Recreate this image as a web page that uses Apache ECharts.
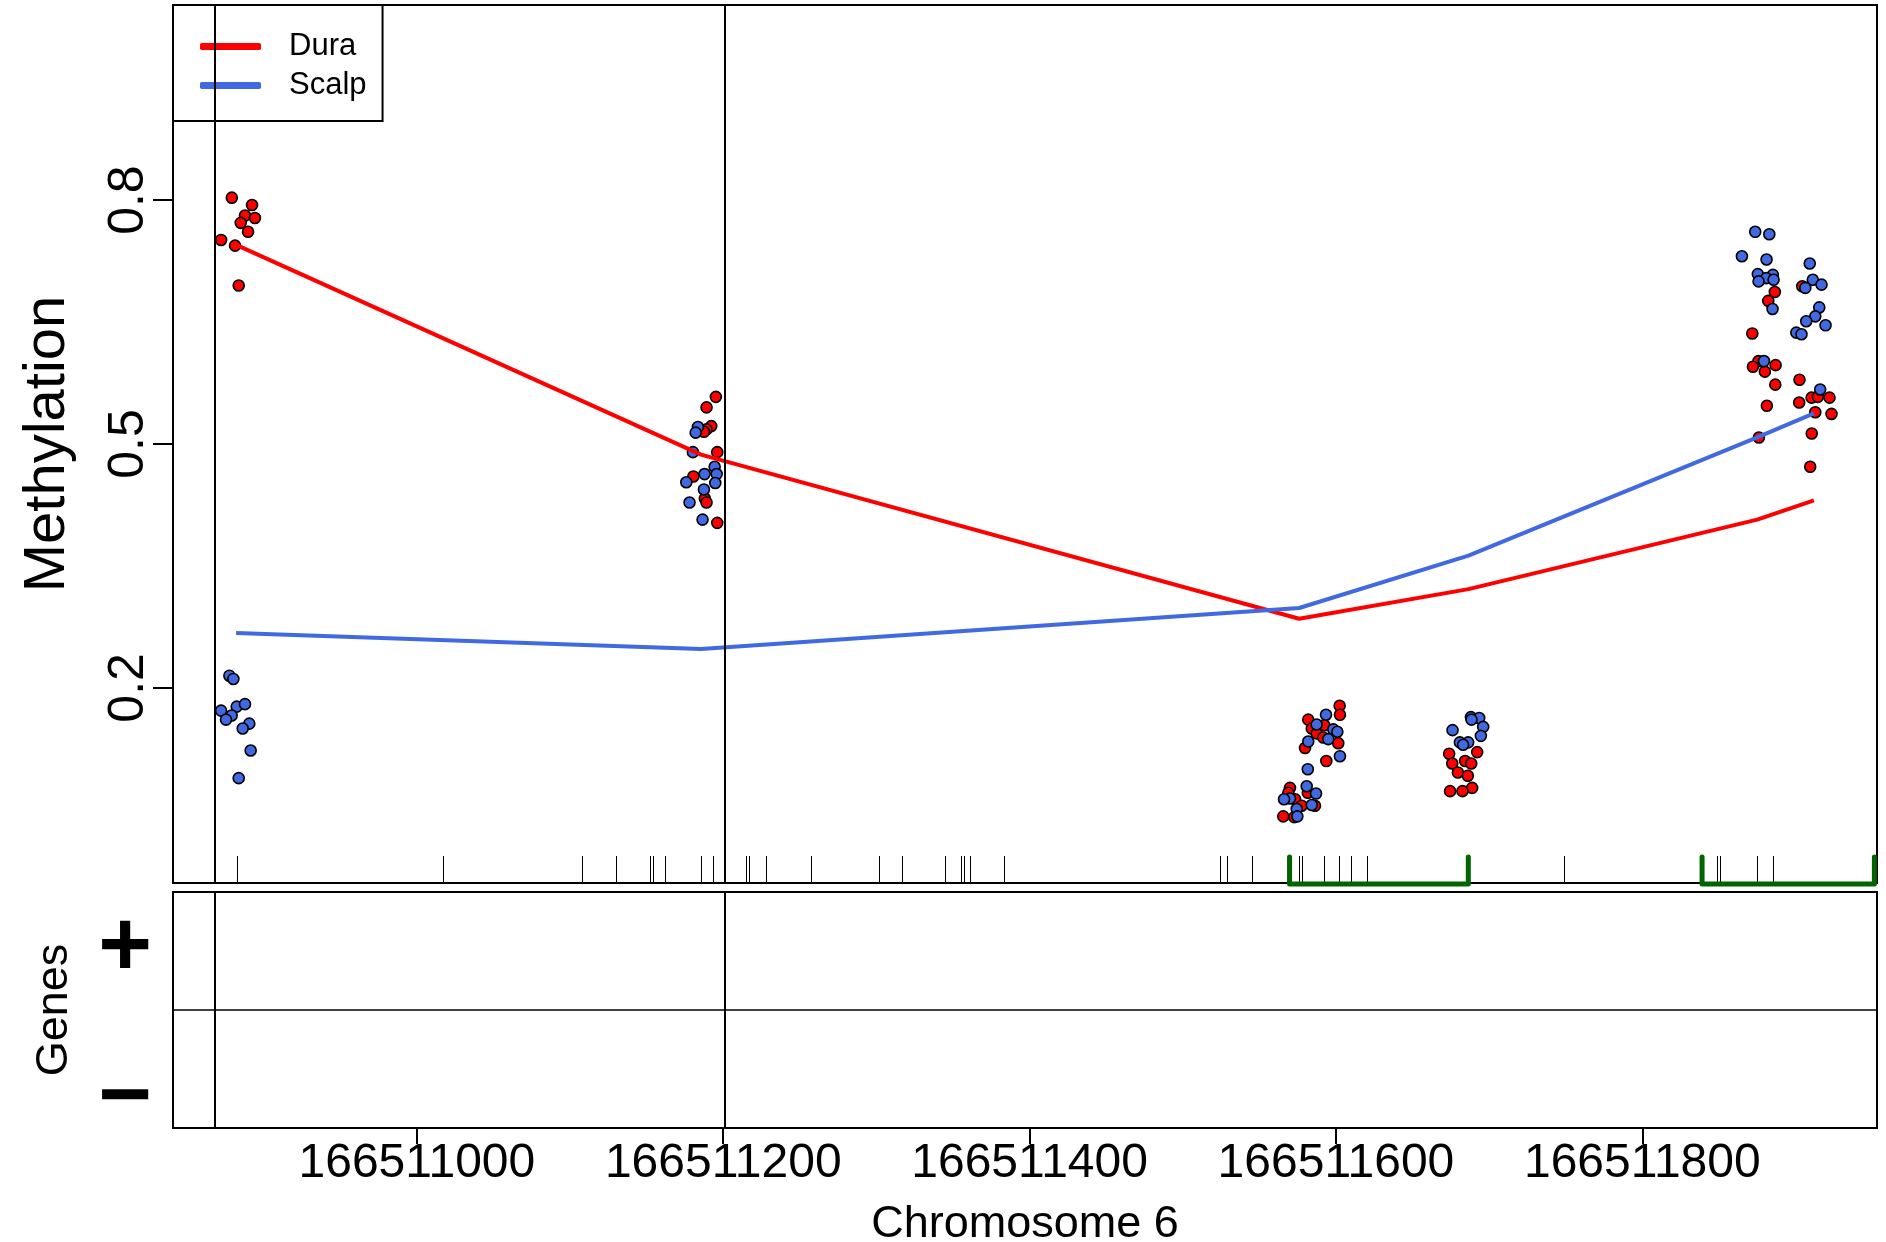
<!DOCTYPE html>
<html><head><meta charset="utf-8">
<script src="https://cdn.jsdelivr.net/npm/echarts@6/dist/echarts.min.js"></script>
<style>html,body{margin:0;padding:0;background:#fff}#c{width:1886px;height:1242px}</style>
</head><body><div id="c"></div><script>
// ---- data ----
const xRange = [166510840.8, 166511953.2];
const yRange = [-0.04, 1.04];
const xTicks = [166511000, 166511200, 166511400, 166511600, 166511800];
const yTicks = [0.2, 0.5, 0.8];
const strandLabels = ['+', '\u2212'];
const strandPositions = [0.515, -0.76];
const linePositions = [166510882, 166511185.5, 166511576, 166511686.5, 166511875, 166511912];
const duraMean = [0.745, 0.487, 0.285, 0.3215, 0.407, 0.4307];
const scalpMean = [0.2676, 0.2477, 0.2983, 0.3628, 0.5082, 0.5377];
const duraPoints = [
  [166510879.2,0.803],[166510892.4,0.794],[166510887.8,0.781],[166510894.3,0.778],[166510885.0,0.772],[166510889.8,0.761],[166510872.2,0.751],[166510881.3,0.744],[166510883.7,0.695],
  [166511195.2,0.558],[166511189.1,0.545],[166511192.2,0.522],[166511189.1,0.518],[166511187.4,0.515],[166511196.1,0.490],[166511180.5,0.460],[166511188.0,0.433],[166511189.1,0.428],[166511196.1,0.403],
  [166511602.4,0.178],[166511602.6,0.167],[166511581.9,0.161],[166511584.2,0.150],[166511592.4,0.154],[166511587.4,0.144],[166511591.7,0.139],[166511601.5,0.132],[166511579.8,0.126],[166511593.7,0.110],[166511570.0,0.077],[166511568.9,0.071],[166511573.3,0.063],[166511581.6,0.071],[166511577.6,0.055],[166511586.3,0.055],[166511565.6,0.042],[166511572.8,0.041],
  [166511673.9,0.119],[166511692.2,0.121],[166511684.3,0.110],[166511675.9,0.107],[166511688.3,0.107],[166511679.6,0.096],[166511686.1,0.092],[166511688.9,0.077],[166511674.5,0.073],[166511682.6,0.073],
  [166511904.4,0.694],[166511886.5,0.687],[166511882.2,0.676],[166511871.8,0.636],[166511875.9,0.602],[166511872.2,0.595],[166511887.0,0.597],[166511880.0,0.589],[166511886.8,0.573],[166511902.6,0.579],[166511910.5,0.557],[166511914.6,0.558],[166511922.2,0.557],[166511881.3,0.547],[166511902.4,0.551],[166511912.9,0.539],[166511923.5,0.537],[166511876.1,0.508],[166511910.6,0.513],[166511909.6,0.472]
];
const scalpPoints = [
  [166510877.6,0.215],[166510880.2,0.211],[166510872.2,0.172],[166510882.4,0.177],[166510887.8,0.180],[166510879.1,0.166],[166510875.4,0.161],[166510890.6,0.156],[166510886.3,0.150],[166510891.5,0.123],[166510883.7,0.089],
  [166511183.5,0.521],[166511182.0,0.514],[166511180.2,0.490],[166511194.4,0.472],[166511195.7,0.463],[166511187.8,0.463],[166511175.9,0.453],[166511194.8,0.452],[166511187.4,0.444],[166511178.0,0.428],[166511186.5,0.407],
  [166511593.5,0.167],[166511587.4,0.155],[166511598.3,0.149],[166511600.9,0.146],[166511595.0,0.137],[166511581.9,0.134],[166511602.6,0.116],[166511581.6,0.100],[166511580.9,0.079],[166511587.0,0.070],[166511570.0,0.064],[166511566.1,0.063],[166511584.2,0.056],[166511574.4,0.051],[166511574.8,0.042],
  [166511688.1,0.164],[166511693.5,0.163],[166511688.5,0.161],[166511696.1,0.152],[166511676.1,0.148],[166511694.6,0.141],[166511680.9,0.133],[166511686.3,0.133],[166511683.0,0.130],
  [166511873.7,0.761],[166511882.9,0.758],[166511865.0,0.731],[166511881.1,0.727],[166511909.3,0.722],[166511875.4,0.709],[166511885.2,0.708],[166511880.9,0.704],[166511885.7,0.702],[166511875.9,0.700],[166511911.3,0.702],[166511906.4,0.692],[166511917.0,0.696],[166511885.0,0.666],[166511915.5,0.668],[166511912.9,0.657],[166511907.0,0.651],[166511919.6,0.646],[166511900.5,0.637],[166511903.9,0.635],[166511879.4,0.602],[166511916.1,0.567]
];
const cpgPositions = [166510882.5,166511017,166511108,166511130,166511152,166511154,166511162,166511185.5,166511193,166511215,166511217,166511228,166511257,166511302,166511317,166511345,166511355,166511357,166511361,166511383,
  166511524,166511529,166511545,166511576,166511578,166511592,166511602,166511610,166511620,166511749,166511849,166511851,166511875,166511885];
const cpgIslands = [[166511569.7, 166511686.4], [166511839, 166511951.5]];
const markerLines = [166510868, 166511201];

// ---- chart ----
const RED = '#FF0000', BLUE = '#4169E1', FONT = 'Liberation Sans, Arial, sans-serif';
const chart = echarts.init(document.getElementById('c'), null, {renderer: 'canvas'});
const vlines = markerLines.map(v => ({xAxis: v}));
const mlStyle = {symbol: ['none','none'], silent: true, label: {show: false}, lineStyle: {color: '#000', width: 2, type: 'solid'}, animation: false};

chart.setOption({
  animation: false,
  backgroundColor: '#fff',
  textStyle: {fontFamily: FONT, color: '#000'},
  grid: [
    {left: 173, top: 5, width: 1704, height: 878, show: true, borderColor: '#000', borderWidth: 2, backgroundColor: 'transparent', containLabel: false, outerBoundsMode: 'none'},
    {left: 173, top: 892, width: 1704, height: 236, show: true, borderColor: '#000', borderWidth: 2, backgroundColor: 'transparent', containLabel: false, outerBoundsMode: 'none'}
  ],
  legend: {
    left: 173, top: 5, orient: 'vertical',
    padding: [26, 16, 20, 27], itemGap: 8,
    itemWidth: 61, itemHeight: 7,
    borderColor: '#000', borderWidth: 2, backgroundColor: '#fff',
    itemStyle: {borderWidth: 0},
    textStyle: {fontSize: 31, fontFamily: FONT, color: '#000', padding: [0, 0, 0, 23], lineHeight: 31},
    data: [{name: 'Dura', icon: 'roundRect'}, {name: 'Scalp', icon: 'roundRect'}]
  },
  xAxis: [
    {type: 'value', gridIndex: 0, min: xRange[0], max: xRange[1], axisLine: {show: false, onZero: false}, axisTick: {show: false}, axisLabel: {show: false}, splitLine: {show: false}},
    {type: 'value', gridIndex: 1, min: xRange[0], max: xRange[1], position: 'bottom',
      axisLine: {show: true, onZero: false, lineStyle: {color: '#000', width: 2}},
      axisTick: {show: true, customValues: xTicks, length: 16, lineStyle: {color: '#000', width: 2}},
      axisLabel: {show: true, customValues: xTicks, fontSize: 48, margin: 12, color: '#000', fontFamily: FONT, formatter: v => String(v)},
      splitLine: {show: false},
      name: 'Chromosome 6', nameLocation: 'middle', nameGap: 74, nameTextStyle: {fontSize: 45, color: '#000', fontFamily: FONT}}
  ],
  yAxis: [
    {type: 'value', gridIndex: 0, min: yRange[0], max: yRange[1], axisLine: {show: false, onZero: false},
      axisTick: {show: true, customValues: yTicks, length: 20, lineStyle: {color: '#000', width: 2}},
      axisLabel: {show: true, customValues: yTicks, rotate: 90, fontSize: 50, margin: 19, color: '#000', fontFamily: FONT, formatter: v => v.toFixed(1)},
      splitLine: {show: false},
      name: 'Methylation', nameLocation: 'middle', nameRotate: 90, nameGap: 96, nameTextStyle: {fontSize: 58, color: '#000', fontFamily: FONT}},
    {type: 'value', gridIndex: 1, min: -1, max: 1, axisLine: {show: false, onZero: false}, axisTick: {show: false},
      axisLabel: {show: true, customValues: strandPositions, fontSize: 92, fontWeight: 'bold', margin: 21, color: '#000', fontFamily: FONT,
        formatter: v => strandLabels[strandPositions.indexOf(v)]},
      splitLine: {show: false},
      name: 'Genes', nameLocation: 'middle', nameRotate: 90, nameGap: 96, nameTextStyle: {fontSize: 45, color: '#000', fontFamily: FONT}}
  ],
  series: [
    {type: 'custom', name: 'cpg', xAxisIndex: 0, yAxisIndex: 0, silent: true, clip: false,
      data: cpgPositions.map(p => [p]),
      renderItem: (params, api) => {
        const p = api.coord([api.value(0), yRange[0]]);
        const x = Math.round(p[0]) + 0.5;
        return {type: 'line', shape: {x1: x, y1: p[1], x2: x, y2: p[1] - 27}, style: {stroke: '#000', lineWidth: 1}};
      }},
    {type: 'scatter', name: 'Dura', xAxisIndex: 0, yAxisIndex: 0, data: duraPoints, symbol: 'circle', symbolSize: 11,
      itemStyle: {color: RED, borderColor: '#000', borderWidth: 1.6, opacity: 1}, z: 3,
      markLine: Object.assign({data: vlines}, mlStyle)},
    {type: 'scatter', name: 'Scalp', xAxisIndex: 0, yAxisIndex: 0, data: scalpPoints, symbol: 'circle', symbolSize: 11,
      itemStyle: {color: BLUE, borderColor: '#000', borderWidth: 1.6, opacity: 1}, z: 3},
    {type: 'line', name: 'Dura', xAxisIndex: 0, yAxisIndex: 0, data: linePositions.map((p, i) => [p, duraMean[i]]),
      symbol: 'none', lineStyle: {color: RED, width: 4}, itemStyle: {color: RED}, z: 4},
    {type: 'line', name: 'Scalp', xAxisIndex: 0, yAxisIndex: 0, data: linePositions.map((p, i) => [p, scalpMean[i]]),
      symbol: 'none', lineStyle: {color: BLUE, width: 4}, itemStyle: {color: BLUE}, z: 4},
    {type: 'custom', name: 'islands', xAxisIndex: 0, yAxisIndex: 0, silent: true, clip: false, z: 5,
      data: cpgIslands,
      renderItem: (params, api) => {
        const a = api.coord([api.value(0), yRange[0]]);
        const b = api.coord([api.value(1), yRange[0]]);
        const yb = a[1] + 1, yt = yb - 27;
        return {type: 'polyline', shape: {points: [[a[0], yt], [a[0], yb], [b[0], yb], [b[0], yt]]},
          style: {stroke: '#006400', lineWidth: 5, fill: null, lineCap: 'round', lineJoin: 'round'}};
      }},
    {type: 'scatter', name: 'genes', xAxisIndex: 1, yAxisIndex: 1, data: [], silent: true,
      markLine: Object.assign({data: vlines.concat([{yAxis: 0, lineStyle: {color: '#000', width: 1.5}}])}, mlStyle)}
  ]
});
</script></body></html>
